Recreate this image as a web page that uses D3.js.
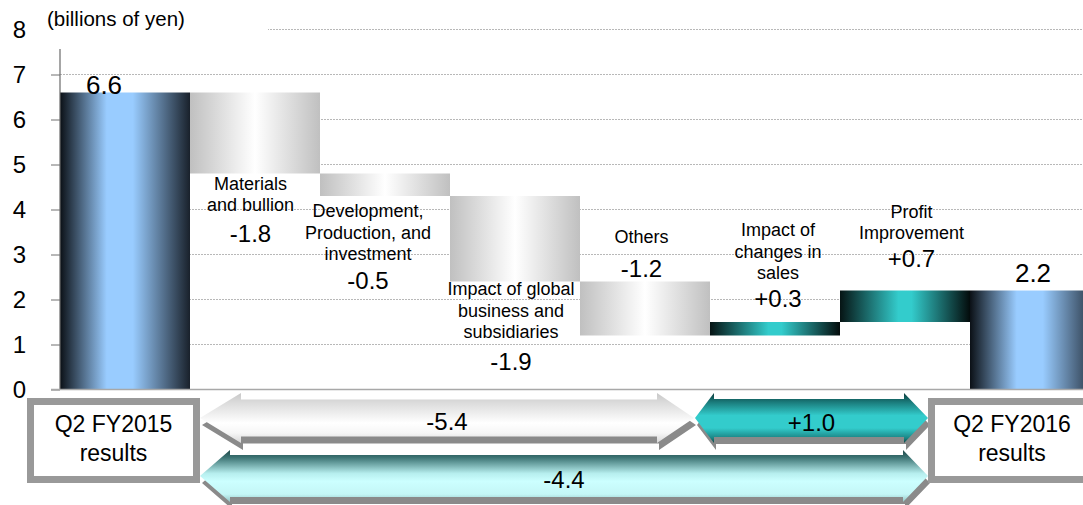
<!DOCTYPE html>
<html>
<head>
<meta charset="utf-8">
<script src="https://cdn.jsdelivr.net/npm/d3@7"></script>
<style>
  html, body { margin: 0; padding: 0; background: #fff; }
  svg { display: block; font-family: "Liberation Sans", Arial, sans-serif; }
</style>
</head>
<body>
<svg id="chart" width="1083" height="505"></svg>
<script>
// Operating profit bridge, Q2 FY2015 -> Q2 FY2016 (billions of yen)
const categories = [
  "Q2 FY2015 results",
  "Materials and bullion",
  "Development, Production, and investment",
  "Impact of global business and subsidiaries",
  "Others",
  "Impact of changes in sales",
  "Profit Improvement",
  "Q2 FY2016 results"
];
const categoryLines = [
  ["Q2 FY2015", "results"],
  ["Materials", "and bullion"],
  ["Development,", "Production, and", "investment"],
  ["Impact of global", "business and", "subsidiaries"],
  ["Others"],
  ["Impact of", "changes in", "sales"],
  ["Profit", "Improvement"],
  ["Q2 FY2016", "results"]
];
const startValue = 6.6;
const deltas = [-1.8, -0.5, -1.9, -1.2, 0.3, 0.7];
const yTicks = [0, 1, 2, 3, 4, 5, 6, 7, 8];
const unitLabel = "(billions of yen)";

const round1 = v => Math.round(v * 10) / 10;
// plain hyphen for the minus sign
const locale = d3.formatLocale({ decimal: ".", thousands: ",", grouping: [3], currency: ["", ""], minus: "-" });
const fmtDelta = locale.format("+.1f");
const fmtTotal = locale.format(".1f");

// waterfall steps
let running = startValue;
const steps = deltas.map((d, i) => {
  const from = running;
  running = round1(running + d);
  return { cat: categories[i + 1], lines: categoryLines[i + 1], delta: d, from, to: running };
});
const endValue = running;
const totals = [
  { cat: categories[0], value: startValue },
  { cat: categories[categories.length - 1], value: endValue }
];
const negSum = round1(d3.sum(deltas.filter(d => d < 0)));
const posSum = round1(d3.sum(deltas.filter(d => d > 0)));
const netSum = round1(endValue - startValue);

const svg = d3.select("#chart");

const x = d3.scaleBand().domain(categories).range([60, 1100]).padding(0);
const y = d3.scaleLinear().domain([0, 8]).range([389.5, 29.5]);

// gradients
const defs = svg.append("defs");
function hGrad(id, stops) {
  const g = defs.append("linearGradient").attr("id", id)
    .attr("x1", 0).attr("y1", 0).attr("x2", 1).attr("y2", 0);
  stops.forEach(([o, c]) => g.append("stop").attr("offset", o).attr("stop-color", c));
}
function vGrad(id, stops) {
  const g = defs.append("linearGradient").attr("id", id)
    .attr("x1", 0).attr("y1", 0).attr("x2", 0).attr("y2", 1);
  stops.forEach(([o, c]) => g.append("stop").attr("offset", o).attr("stop-color", c));
}
hGrad("gBlue", [[0, "#0b1016"], [0.36, "#99ccff"], [0.56, "#99ccff"], [1, "#19212b"]]);
hGrad("gGray", [[0, "#c0c0c0"], [0.5, "#ffffff"], [1, "#c0c0c0"]]);
hGrad("gTeal", [[0, "#061414"], [0.45, "#33cccc"], [0.55, "#33cccc"], [1, "#030b0b"]]);
vGrad("aGray", [[0, "#c8c8c8"], [0.2, "#dcdcdc"], [0.6, "#ffffff"], [0.8, "#f6f6f6"], [1, "#d6d6d6"]]);
vGrad("aTeal", [[0, "#0a3c3c"], [0.18, "#1a7a7a"], [0.45, "#33cccc"], [0.7, "#33cccc"], [0.9, "#1c8585"], [1, "#0d4545"]]);
vGrad("aCyan", [[0, "#1f4848"], [0.14, "#3b7272"], [0.45, "#b6eeee"], [0.6, "#ccffff"], [0.85, "#c4f6f6"], [1, "#94c4c4"]]);

// gridlines
svg.append("g").selectAll("line").data(yTicks.filter(v => v > 0)).join("line")
  .attr("x1", 60).attr("x2", 1083)
  .attr("y1", d => y(d)).attr("y2", d => y(d))
  .attr("stroke", "#b8b8b8").attr("stroke-width", 1).attr("stroke-dasharray", "2,1");

// unit label (sits on a white plate over the top gridline)
svg.append("rect").attr("x", 40).attr("y", 0).attr("width", 228).attr("height", 42).attr("fill", "#fff");
svg.append("text").attr("x", 47).attr("y", 26).attr("font-size", 20.5).attr("fill", "#000")
  .text(unitLabel);

// total bars
svg.append("g").selectAll("rect").data(totals).join("rect")
  .attr("x", d => x(d.cat)).attr("width", x.bandwidth())
  .attr("y", d => y(d.value)).attr("height", d => y(0) - y(d.value))
  .attr("fill", "url(#gBlue)");

// step bars
svg.append("g").selectAll("rect").data(steps).join("rect")
  .attr("x", d => x(d.cat)).attr("width", x.bandwidth())
  .attr("y", d => y(Math.max(d.from, d.to)))
  .attr("height", d => Math.abs(y(d.from) - y(d.to)))
  .attr("fill", d => d.delta < 0 ? "url(#gGray)" : "url(#gTeal)");

// axes
const yAxis = d3.axisLeft(y).tickValues(yTicks.filter(v => v < 8)).tickSize(9).tickFormat("");
const ag = svg.append("g").attr("transform", "translate(60,0)").call(yAxis);
ag.select(".domain").remove();
ag.selectAll(".tick line").attr("stroke", "#707070");
svg.append("line").attr("x1", 60).attr("x2", 60).attr("y1", 49).attr("y2", y(0))
  .attr("stroke", "#6a6a6a").attr("stroke-width", 1.2);
svg.append("line").attr("x1", 51).attr("x2", 1083).attr("y1", y(0)).attr("y2", y(0))
  .attr("stroke", "#a8a8a8").attr("stroke-width", 1.5);

svg.append("g").selectAll("text").data(yTicks).join("text")
  .attr("x", 26).attr("y", d => y(d) + 8.5)
  .attr("text-anchor", "end").attr("font-size", 24).attr("fill", "#000")
  .text(d => d);

// category and value labels for the steps
const labelLayout = [
  { anchor: "below", gap: 16, dx: -4.5, valueGap: 31 },
  { anchor: "below", gap: 21, dx: -17, valueGap: 29 },
  { anchor: "below", gap: 13.5, dx: -4, valueGap: 32 },
  { anchor: "above", gap: 4.5, dx: -3.5, valueGap: 34 },
  { anchor: "above", gap: 15, dx: 3, valueGap: 28 },
  { anchor: "above", gap: 23.5, dx: 6.5, valueGap: 28 }
];
const lineStep = 21.5;
steps.forEach((s, i) => {
  const L = labelLayout[i];
  const cx = x(s.cat) + x.bandwidth() / 2 + L.dx;
  const n = s.lines.length;
  let lineYs, valueY;
  if (L.anchor === "below") {
    const first = y(Math.min(s.from, s.to)) + L.gap;
    lineYs = s.lines.map((_, k) => first + k * lineStep);
    valueY = lineYs[n - 1] + L.valueGap;
  } else {
    valueY = y(Math.max(s.from, s.to)) - L.gap;
    const last = valueY - L.valueGap;
    lineYs = s.lines.map((_, k) => last - (n - 1 - k) * lineStep);
  }
  const g = svg.append("g");
  g.selectAll("text.cat").data(s.lines).join("text").attr("class", "cat")
    .attr("x", cx).attr("y", (_, k) => lineYs[k])
    .attr("text-anchor", "middle").attr("font-size", 18).attr("fill", "#000")
    .text(t => t);
  g.append("text").attr("x", cx).attr("y", valueY)
    .attr("text-anchor", "middle").attr("font-size", 24).attr("fill", "#000")
    .text(fmtDelta(s.delta));
});

// total value labels
const totalLayout = [{ dx: -21, dy: 1.5 }, { dx: -2, dy: -8.5 }];
svg.append("g").selectAll("text").data(totals).join("text")
  .attr("x", (d, i) => x(d.cat) + x.bandwidth() / 2 + totalLayout[i].dx)
  .attr("y", (d, i) => y(d.value) + totalLayout[i].dy)
  .attr("text-anchor", "middle").attr("font-size", 26).attr("fill", "#000")
  .text(d => fmtTotal(d.value));

// summary arrows
function arrowPath(x0, x1, cy, shaftHalf, headHalf, hl, hr) {
  return `M${x0},${cy} L${x0 + hl},${cy - headHalf} L${x0 + hl},${cy - shaftHalf} ` +
    `L${x1 - hr},${cy - shaftHalf} L${x1 - hr},${cy - headHalf} L${x1},${cy} ` +
    `L${x1 - hr},${cy + headHalf} L${x1 - hr},${cy + shaftHalf} L${x0 + hl},${cy + shaftHalf} ` +
    `L${x0 + hl},${cy + headHalf} Z`;
}
const arrows = [
  { label: fmtDelta(negSum), x0: 200, x1: 694, cy: 418, sh: 18.5, hh: 25, hl: 41, hr: 37, fill: "url(#aGray)", ty: 430 },
  { label: fmtDelta(posSum), x0: 695, x1: 928, cy: 418, sh: 19, hh: 25, hl: 19, hr: 24, fill: "url(#aTeal)", ty: 431 },
  { label: fmtDelta(netSum), x0: 200, x1: 928, cy: 476, sh: 21, hh: 26, hl: 30, hr: 25, fill: "url(#aCyan)", ty: 488 }
];
const arrowG = svg.append("g");
arrowG.selectAll("path.shadow").data(arrows).join("path").attr("class", "shadow")
  .attr("d", a => arrowPath(a.x0, a.x1, a.cy, a.sh, a.hh, a.hl, a.hr))
  .attr("transform", "translate(2,7)").attr("fill", "#8a8a8a");
arrowG.selectAll("path.body").data(arrows).join("path").attr("class", "body")
  .attr("d", a => arrowPath(a.x0, a.x1, a.cy, a.sh, a.hh, a.hl, a.hr))
  .attr("fill", a => a.fill);
arrowG.selectAll("text").data(arrows).join("text")
  .attr("x", a => (a.x0 + a.x1) / 2).attr("y", a => a.ty)
  .attr("text-anchor", "middle").attr("font-size", 24).attr("fill", "#000")
  .text(a => a.label);

// period boxes
const boxes = [
  { lines: categoryLines[0], x0: 27, x1: 200 },
  { lines: categoryLines[7], x0: 928, x1: 1096 }
];
const boxG = svg.append("g");
boxes.forEach(b => {
  boxG.append("rect").attr("x", b.x0 + 3.5).attr("y", 401.5)
    .attr("width", b.x1 - b.x0 - 7).attr("height", 78)
    .attr("fill", "#fff").attr("stroke", "#999999").attr("stroke-width", 7);
  const cx = (b.x0 + b.x1) / 2;
  boxG.selectAll(null).data(b.lines).join("text")
    .attr("x", cx).attr("y", (_, k) => 432 + k * 29)
    .attr("text-anchor", "middle").attr("font-size", 23).attr("fill", "#000")
    .text(t => t);
});
</script>
</body>
</html>
